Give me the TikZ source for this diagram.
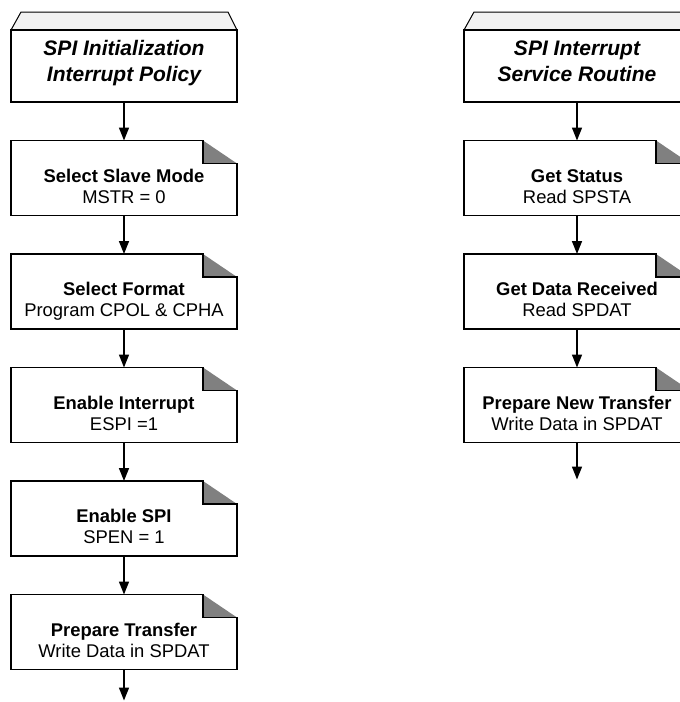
\documentclass[tikz,border=0pt]{standalone}
\usepackage{fontspec}
\setmainfont{Liberation Sans}
\usetikzlibrary{positioning,arrows.meta}
\definecolor{SPIFold}{HTML}{808080}
\definecolor{SPICap}{HTML}{F2F2F2}
\tikzset{
  spiBase/.style={
    font=\fontsize{18.4pt}{21pt}\selectfont,
    align=center,
    minimum width=226pt,
    inner sep=0pt,
    outer sep=0pt,
    text depth=0pt
  },
  spiHead/.style={
    spiBase,
    font=\fontsize{21pt}{26pt}\selectfont\bfseries\itshape,
    fill=white,
    minimum height=72pt,
    text height=30pt
  },
  spiStep/.style={
    spiBase,
    fill=white,
    minimum height=75pt,
    text height=50pt
  },
  spiCap/.style={
    fill=SPICap,
    draw=black,
    line width=1pt
  },
  spiFold/.style={
    fill=SPIFold
  },
  spiEdge/.style={
    draw=black,
    line width=1.5pt
  },
  spiArrow/.style={
    line width=1.5pt,
    -{Triangle[length=13pt,width=10pt]}
  }
}
\begin{document}
\begin{tikzpicture}[x=1pt, y=1pt, node distance=38.5pt]
  \useasboundingbox (0,0) rectangle (680,-702);
  \clip (0,0) rectangle (680,-702);

  % initialization
  \node (init) [spiHead] at (124,-66) {SPI Initialization\\Interrupt Policy};
  \node (slave) [spiStep, below=of init] {\textbf{Select Slave Mode}\\MSTR = 0};
  \node (format) [spiStep, below=of slave] {\textbf{Select Format}\\Program CPOL \& CPHA};
  \node (intr) [spiStep, below=of format] {\textbf{Enable Interrupt}\\ESPI =1};
  \node (enspi) [spiStep, below=of intr] {\textbf{Enable SPI}\\SPEN = 1};
  \node (xfer) [spiStep, below=of enspi] {\textbf{Prepare Transfer}\\Write Data in SPDAT};
  \coordinate (initEnd) at ([yshift=-31pt]xfer.south);

  % interrupt service routine
  \node (isr) [spiHead] at (577,-66) {SPI Interrupt\\Service Routine};
  \node (status) [spiStep, below=of isr] {\textbf{Get Status}\\Read SPSTA};
  \node (rxdata) [spiStep, below=of status] {\textbf{Get Data Received}\\Read SPDAT};
  \node (newxfer) [spiStep, below=of rxdata] {\textbf{Prepare New Transfer}\\Write Data in SPDAT};
  \coordinate (isrEnd) at ([yshift=-37pt]newxfer.south);

  % head boxes with cap
  \foreach \h in {init,isr} {
    \draw[spiCap] (\h.north west) -- ([shift={(10pt,18pt)}]\h.north west)
      -- ([shift={(-9pt,18pt)}]\h.north east) -- (\h.north east);
    \draw[spiEdge] (\h.north west) rectangle (\h.south east);
  }

  % step boxes with folded corner
  \foreach \b in {slave,format,intr,enspi,xfer,status,rxdata,newxfer} {
    \fill[spiFold] ([xshift=-34pt]\b.north east) -- ([yshift=-23pt]\b.north east)
      -- ([shift={(-34pt,-23pt)}]\b.north east) -- cycle;
    \draw[spiEdge, line join=miter] (\b.north west) -- ([xshift=-34pt]\b.north east)
      -- ([shift={(-34pt,-23pt)}]\b.north east) -- ([yshift=-23pt]\b.north east)
      -- (\b.south east) -- (\b.south west) -- cycle;
  }

  \draw[spiArrow] (init) -- (slave);
  \draw[spiArrow] (slave) -- (format);
  \draw[spiArrow] (format) -- (intr);
  \draw[spiArrow] (intr) -- (enspi);
  \draw[spiArrow] (enspi) -- (xfer);
  \draw[spiArrow] (xfer) -- (initEnd);

  \draw[spiArrow] (isr) -- (status);
  \draw[spiArrow] (status) -- (rxdata);
  \draw[spiArrow] (rxdata) -- (newxfer);
  \draw[spiArrow] (newxfer) -- (isrEnd);
\end{tikzpicture}
\end{document}
